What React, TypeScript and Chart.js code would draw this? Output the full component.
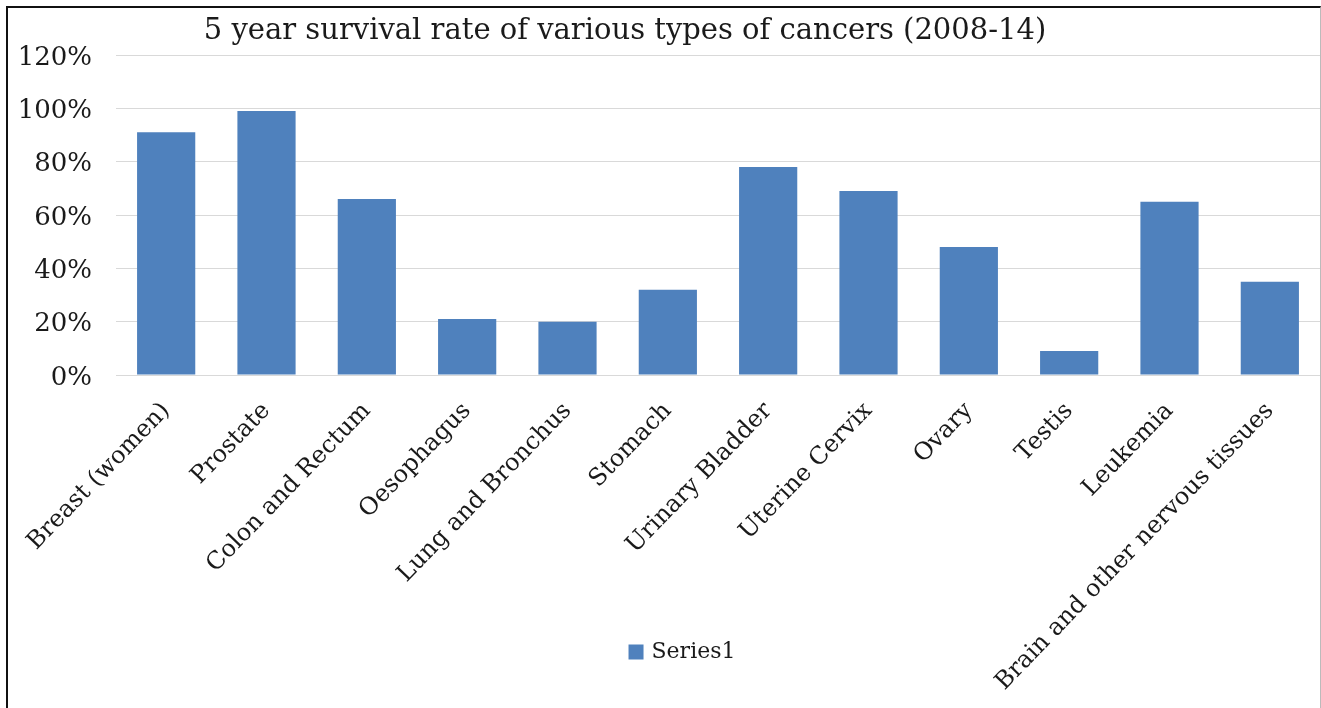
import React, { useEffect, useRef } from "react";
import { Chart, registerables } from "chart.js";

Chart.register(...registerables);

const TITLE = "5 year survival rate of various types of cancers (2008-14)";
const categories = [
  "Breast (women)",
  "Prostate",
  "Colon and Rectum",
  "Oesophagus",
  "Lung and Bronchus",
  "Stomach",
  "Urinary Bladder",
  "Uterine Cervix",
  "Ovary",
  "Testis",
  "Leukemia",
  "Brain and other nervous tissues",
];
const series1 = [91, 99, 66, 21, 20, 32, 78, 69, 48, 9, 65, 35];
const yTicks = [0, 20, 40, 60, 80, 100, 120];

const FONT = "'DejaVu Serif', 'Liberation Serif', serif";
const TEXT = "#1a1a1a";

export default function App() {
  const ref = useRef<HTMLCanvasElement | null>(null);
  useEffect(() => {
    if (!ref.current) return;
    const titleLegendPlugin = {
      id: "customTitleLegend",
      afterDraw(chart: any) {
        const ctx = chart.ctx;
        ctx.save();
        ctx.font = `29px ${FONT}`;
        ctx.fillStyle = TEXT;
        ctx.textAlign = "center";
        ctx.textBaseline = "middle";
        ctx.fillText(TITLE, 625, 31);

        // legend
        const ds = chart.data.datasets[0];
        ctx.font = `22px ${FONT}`;
        const label = ds.label as string;
        const tw = ctx.measureText(label).width;
        const box = 15;
        const gap = 8;
        const total = box + gap + tw;
        const cx = 682;
        const cy = 652;
        const x0 = cx - total / 2;
        ctx.fillStyle = ds.backgroundColor;
        ctx.fillRect(x0, cy - box / 2, box, box);
        ctx.fillStyle = TEXT;
        ctx.textAlign = "left";
        ctx.fillText(label, x0 + box + gap, cy);
        ctx.restore();
      },
    };
    const chart = new Chart(ref.current, {
      type: "bar",
      data: {
        labels: categories,
        datasets: [
          {
            label: "Series1",
            data: series1,
            backgroundColor: "#4F81BD",
            borderWidth: 0,
            categoryPercentage: 1,
            barPercentage: 0.58,
          },
        ],
      },
      options: {
        animation: false,
        responsive: false,
        maintainAspectRatio: false,
        layout: { padding: { top: 55, right: 1, bottom: 0, left: 0 } },
        plugins: {
          title: { display: false },
          tooltip: { enabled: false },
          legend: { display: false },
        },
        scales: {
          x: {
            grid: { display: false, drawTicks: false },
            border: { display: false },
            ticks: {
              minRotation: 46,
              maxRotation: 46,
              autoSkip: false,
              padding: 22,
              color: TEXT,
              font: { family: FONT, size: 24 },
            },
            afterFit(scale: any) {
              scale.height = 333;
            },
          },
          y: {
            min: 0,
            max: 120,
            afterBuildTicks(scale: any) {
              scale.ticks = yTicks.map((v) => ({ value: v }));
            },
            grid: { color: "#d9d9d9", lineWidth: 1, drawTicks: false },
            border: { display: false },
            ticks: {
              padding: 24,
              labelOffset: 3,
              color: TEXT,
              font: { family: FONT, size: 26 },
              callback: (v: any) => `${v}%`,
            },
            afterFit(scale: any) {
              scale.width = 116;
            },
          },
        },
      },
      plugins: [titleLegendPlugin],
    });
    return () => chart.destroy();
  }, []);
  return (
    <div style={{ position: "fixed", left: 0, top: 0, width: 1321, height: 708, background: "#fff" }}>
      <canvas ref={ref} width={1321} height={708} style={{ position: "absolute", left: 0, top: 0 }} />
      <div
        style={{
          position: "absolute",
          left: 6,
          top: 6,
          width: 1312,
          height: 710,
          borderLeft: "2px solid #111",
          borderTop: "2px solid #111",
          borderRight: "1px solid #bbb",
          pointerEvents: "none",
        }}
      />
    </div>
  );
}
